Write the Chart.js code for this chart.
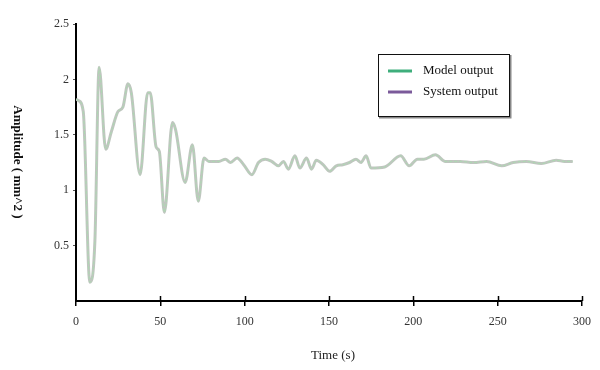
<!DOCTYPE html>
<html>
<head>
<meta charset="utf-8">
<script src="https://cdn.jsdelivr.net/npm/chart.js@4/dist/chart.umd.min.js"></script>
<style>
html,body{margin:0;padding:0;background:#fff;}
#wrap{width:600px;height:370px;position:relative;}
</style>
</head>
<body>
<div id="wrap"><canvas id="c" width="600" height="370"></canvas></div>
<script>
// ---- data ----
const timeValues = [0, 1.4, 4.3, 8.2, 11.2, 13.7, 17.6, 21, 24.9, 27.8, 30.8, 32.8, 38, 42.5, 44, 47.5, 49.4, 52.4, 57.2, 59, 64.7, 69, 72.5, 75.9, 78.8, 84.7, 88.6, 91.6, 95.5, 99.4, 104.3, 108.2, 112.2, 116, 120, 123, 125.9, 129.8, 132.7, 136.7, 139.6, 142.5, 146.5, 150.4, 154.3, 158.2, 162.2, 166, 169, 172, 174.9, 183, 192.5, 197.5, 202.4, 206.3, 213.1, 219, 227.8, 235.7, 243.5, 252.4, 259.2, 267, 275.9, 284.7, 289.6, 294.5];
const systemOutput = [1.82, 1.81, 1.71, 0.17, 0.54, 2.11, 1.37, 1.53, 1.71, 1.75, 1.96, 1.88, 1.14, 1.88, 1.88, 1.39, 1.35, 0.80, 1.61, 1.55, 1.07, 1.41, 0.90, 1.29, 1.26, 1.26, 1.28, 1.25, 1.29, 1.23, 1.14, 1.25, 1.28, 1.26, 1.22, 1.26, 1.19, 1.31, 1.20, 1.29, 1.19, 1.27, 1.23, 1.17, 1.22, 1.23, 1.25, 1.28, 1.25, 1.31, 1.20, 1.21, 1.31, 1.22, 1.28, 1.28, 1.32, 1.26, 1.26, 1.25, 1.26, 1.22, 1.25, 1.26, 1.24, 1.27, 1.26, 1.26];
const modelOutput = systemOutput.slice();
const seriesLabels = ['Model output', 'System output'];
const xTicks = [0, 50, 100, 150, 200, 250, 300];
const yTicks = [0, 0.5, 1, 1.5, 2, 2.5];

const serif = '"Liberation Serif", "Times New Roman", serif';

const toPts = (xs, ys) => xs.map((x, i) => ({x: x, y: ys[i]}));

const decorPlugin = {
  id: 'decor',
  afterDraw(chart) {
    const ctx = chart.ctx;
    const xs = chart.scales.x, ys = chart.scales.y;
    ctx.save();
    ctx.strokeStyle = '#000';
    ctx.lineWidth = 1.5;
    xTicks.forEach(v => {
      if (v === 0) return;
      const px = Math.round(xs.getPixelForValue(v)) + 0.5;
      ctx.beginPath();
      ctx.moveTo(px, ys.bottom - 5);
      ctx.lineTo(px, ys.bottom);
      ctx.stroke();
    });
    ctx.restore();

    ctx.save();
    ctx.fillStyle = '#111';
    ctx.font = 'bold 13px ' + serif;
    ctx.textAlign = 'center';
    ctx.textBaseline = 'middle';
    ctx.translate(17, 162);
    ctx.rotate(Math.PI / 2);
    ctx.fillText('Amplitude ( mm^2 )', 0, 0);
    ctx.restore();

    ctx.save();
    ctx.fillStyle = '#222';
    ctx.font = '13px ' + serif;
    ctx.textAlign = 'center';
    ctx.textBaseline = 'middle';
    ctx.fillText('Time (s)', 333, 356);
    ctx.restore();

    const bx = 378, by = 54, bw = 131, bh = 62;
    ctx.save();
    ctx.fillStyle = '#fff';
    ctx.fillRect(bx, by, bw, bh);
    ctx.strokeStyle = '#888';
    ctx.lineWidth = 2;
    ctx.beginPath();
    ctx.moveTo(bx + 1, by + bh + 1.5);
    ctx.lineTo(bx + bw + 1.5, by + bh + 1.5);
    ctx.lineTo(bx + bw + 1.5, by + 1);
    ctx.stroke();
    ctx.strokeStyle = '#111';
    ctx.lineWidth = 1;
    ctx.strokeRect(bx + 0.5, by + 0.5, bw, bh);
    const rows = [71, 92];
    chart.data.datasets.forEach((ds, i) => {
      ctx.strokeStyle = ds.legendColor;
      ctx.lineWidth = 3;
      ctx.beginPath();
      ctx.moveTo(388, rows[i]);
      ctx.lineTo(412, rows[i]);
      ctx.stroke();
      ctx.fillStyle = '#111';
      ctx.font = '13px ' + serif;
      ctx.textAlign = 'left';
      ctx.textBaseline = 'middle';
      ctx.fillText(ds.label, 423, rows[i]);
    });
    ctx.restore();
  }
};

new Chart(document.getElementById('c'), {
  type: 'line',
  data: {
    datasets: [
      {
        label: seriesLabels[0],
        legendColor: '#3fae7c',
        data: toPts(timeValues, modelOutput),
        borderColor: 'rgba(170,220,175,0.9)',
        borderWidth: 1,
        borderDash: [3, 2],
        pointRadius: 0,
        cubicInterpolationMode: 'monotone',
        fill: false,
        order: 1
      },
      {
        label: seriesLabels[1],
        legendColor: '#7b5a9a',
        data: toPts(timeValues, systemOutput),
        borderColor: '#bfc6bf',
        borderWidth: 3,
        pointRadius: 0,
        cubicInterpolationMode: 'monotone',
        fill: false,
        order: 2
      }
    ]
  },
  options: {
    responsive: false,
    animation: false,
    events: [],
    layout: {padding: {left: 30, right: 14, top: 24, bottom: 9}},
    plugins: {legend: {display: false}, tooltip: {enabled: false}},
    scales: {
      x: {
        type: 'linear',
        min: 0, max: 300,
        afterBuildTicks: s => { s.ticks = xTicks.map(v => ({value: v})); },
        afterFit: s => { s.height = 60; },
        grid: {drawOnChartArea: false, tickLength: 5, color: '#000', lineWidth: 1.5},
        border: {display: true, color: '#000', width: 2},
        ticks: {color: '#333', padding: 9, font: {family: serif, size: 12}, maxRotation: 0}
      },
      y: {
        min: 0, max: 2.5,
        afterBuildTicks: s => { s.ticks = yTicks.map(v => ({value: v})); },
        afterFit: s => { s.width = 46; },
        grid: {drawOnChartArea: false, tickLength: 3, color: c => c.tick && c.tick.value === 0 ? 'rgba(0,0,0,0)' : '#555', lineWidth: 1},
        border: {display: true, color: '#000', width: 2},
        ticks: {color: '#333', padding: 4, font: {family: serif, size: 12},
          callback: v => v === 0 ? '' : String(v)}
      }
    }
  },
  plugins: [decorPlugin]
});
</script>
</body>
</html>
